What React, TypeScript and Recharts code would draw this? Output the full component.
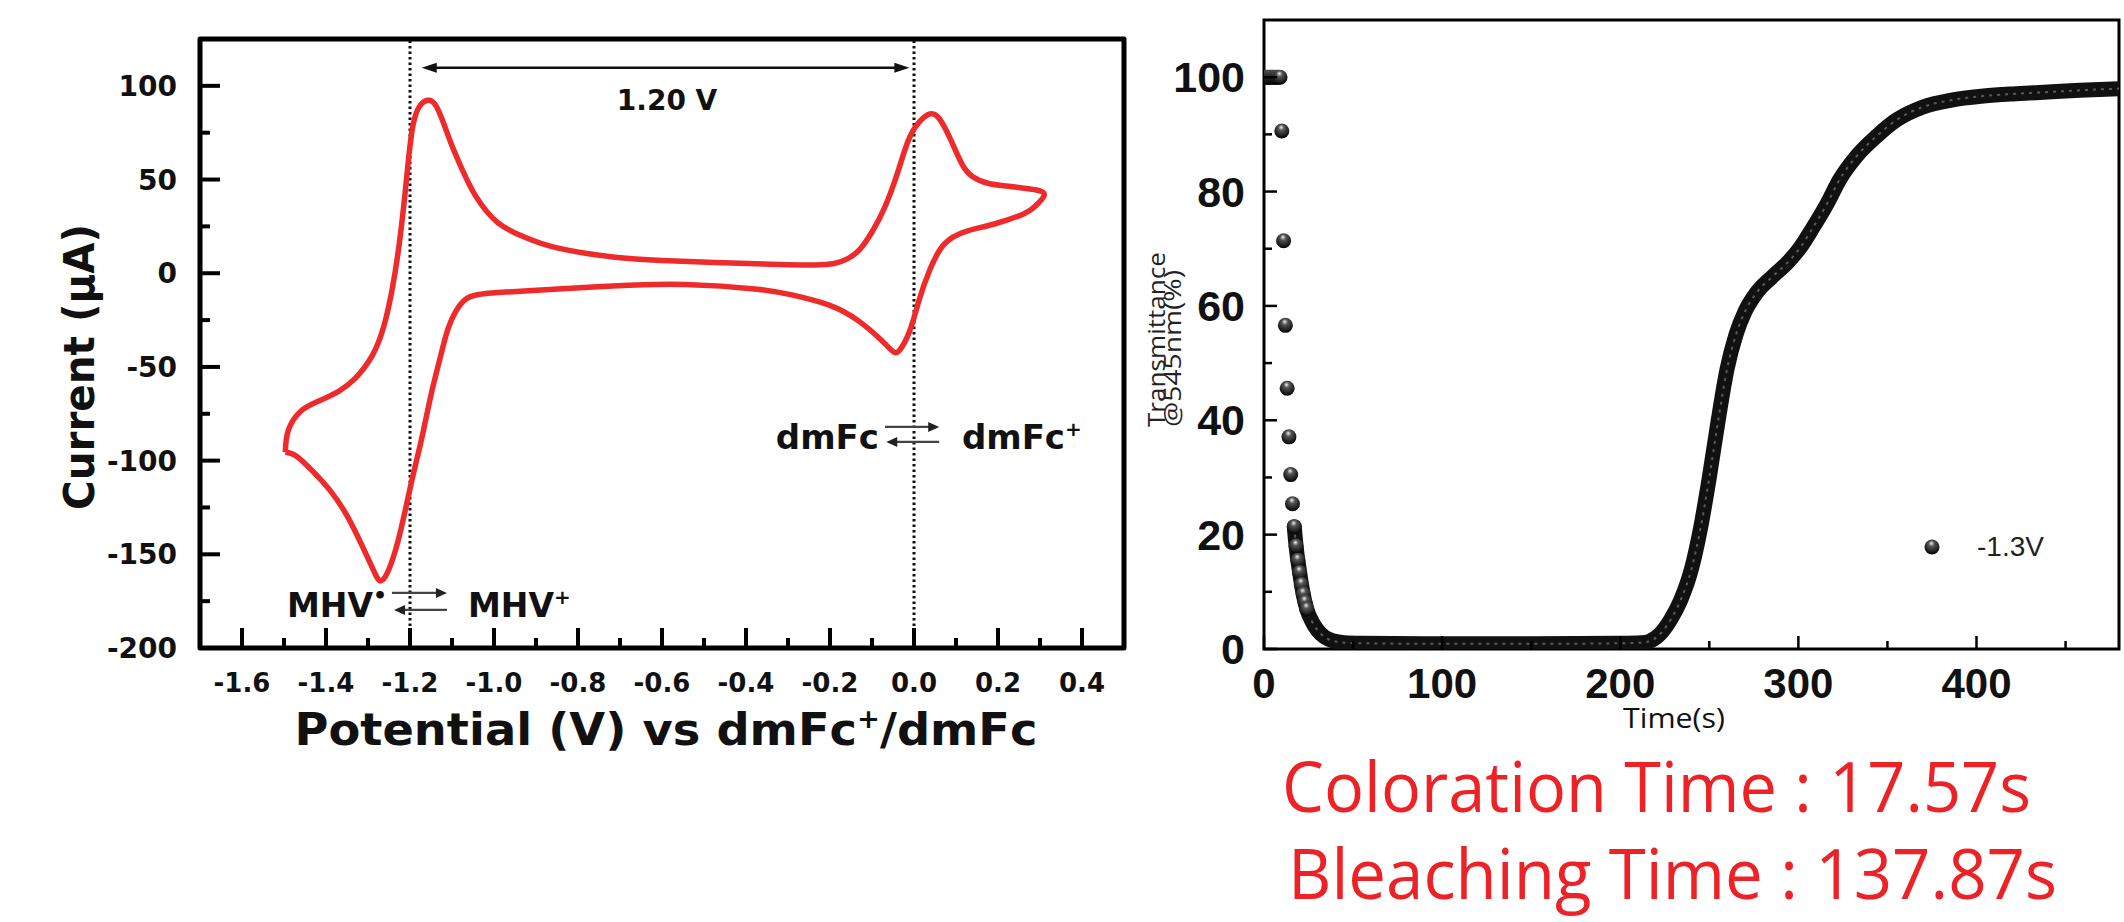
import React from 'react';
import {
  LineChart, ComposedChart, Line, XAxis, YAxis, ReferenceArea, ReferenceLine, ReferenceDot, Label, Legend,
} from 'recharts';

// cyclic voltammogram, scan order starting at the negative vertex
const cvPotential = [
  -1.497, -1.49, -1.462, -1.42, -1.37, -1.33, -1.29, -1.262, -1.242, -1.226, -1.213, -1.203, -1.192, -1.176,
  -1.158, -1.14, -1.12, -1.1, -1.077, -1.043, -0.991, -0.93, -0.85, -0.717, -0.6, -0.459, -0.32, -0.236,
  -0.19, -0.16, -0.13, -0.1, -0.07, -0.04, -0.015, 0.01, 0.038, 0.062, 0.09, 0.115, 0.14, 0.176, 0.22, 0.262,
  0.3, 0.309, 0.29, 0.262, 0.193, 0.124, 0.072, 0.038, 0.012, -0.01, -0.034, -0.048, -0.063, -0.082, -0.133,
  -0.202, -0.288, -0.373, -0.545, -0.717, -0.888, -0.991, -1.04, -1.068, -1.09, -1.11, -1.128, -1.15, -1.172,
  -1.197, -1.223, -1.245, -1.262, -1.275, -1.29, -1.315, -1.351, -1.39, -1.43, -1.471, -1.497,
];
const cvCurrent = [
  -95.5, -84, -74, -68.5, -63, -56, -44, -28, -8, 15, 40, 62, 80, 89.5,
  92.3, 90, 80, 68, 56, 41, 27, 19.5, 13.5, 8.7, 6.8, 5.6, 4.6, 4.4,
  5.2, 7.5, 12.5, 22, 35, 53, 70, 80, 85, 82, 70, 58, 51.5, 48, 46.5, 45.4,
  44, 41, 36, 31.8, 26.4, 22.3, 15.5, 2, -14.4, -30.7, -41, -42, -39, -34.8, -25.3,
  -17, -11.7, -8.5, -6, -6.8, -9, -10.3, -11.5, -14, -20, -30, -45, -65, -88,
  -112, -138, -155, -163, -163.5, -157, -145, -129, -116, -106, -97.5, -95.5,
];
const cvXTicks = [-1.6, -1.5, -1.4, -1.3, -1.2, -1.1, -1.0, -0.9, -0.8, -0.7, -0.6, -0.5, -0.4, -0.3, -0.2, -0.1, 0, 0.1, 0.2, 0.3, 0.4];
const cvYTicks = [-200, -175, -150, -125, -100, -75, -50, -25, 0, 25, 50, 75, 100];

// transmittance @545nm under -1.3V
const dropTime = [1, 2, 3, 4, 5, 6, 7, 8, 9, 10, 11, 12, 13, 14, 15, 16, 17, 18, 19, 20, 21, 22, 23, 24];
const dropTrans = [100, 100, 100, 100, 100, 100, 100, 100, 100, 90.6, 71.4, 56.6, 45.6, 37.1, 30.5, 25.4, 21.4, 18, 15.5, 13.4, 11.3, 9.6, 8.2, 7];
const bandTime = [
  17, 18, 20, 22, 24, 27, 30, 34, 39, 45, 55, 100, 150, 200, 212, 216, 222, 228, 234, 240, 245, 250, 255,
  260, 265, 270, 277, 285, 294, 301, 308, 316, 323, 333, 344, 355, 370, 386, 404, 422, 440, 458, 480,
];
const bandTrans = [
  21.4, 18, 13.4, 9.6, 7, 4.8, 3.3, 2.1, 1.4, 1.1, 1, 0.9, 0.9, 1, 1.1, 1.3, 2.5, 5, 8.6, 14, 21, 30, 40,
  49, 55, 59, 62.5, 65, 67.6, 70.2, 73.6, 77.8, 82, 86.3, 89.7, 92.5, 94.8, 96, 96.7, 97.1, 97.4, 97.7, 98,
];
const trXTicks = [0, 50, 100, 150, 200, 250, 300, 350, 400, 450];
const trYTicks = [0, 10, 20, 30, 40, 50, 60, 70, 80, 90, 100];

const cvData = cvPotential.map((v, k) => ({ v, i: cvCurrent[k] }));
const dropData = dropTime.map((t, k) => ({ t, T: dropTrans[k] }));
const bandData = bandTime.map((t, k) => ({ t, T: bandTrans[k] }));

const WIDE = 'DejaVu Sans';
const ARIAL = 'Liberation Sans, Arial';
const OPEN = 'Open Sans';
const RED = '#ee2a2a';

// ---- left chart ticks / titles ----
const CvXTick = (p: any) => {
  const v = p.payload.value;
  const major = Math.round(v * 10) % 2 === 0;
  return (
    <g>
      <line x1={p.x} y1={p.y} x2={p.x} y2={p.y - (major ? 20 : 10)} stroke="#000" strokeWidth={4} />
      {major && (
        <text x={p.x} y={p.y + 44} textAnchor="middle" fontFamily={WIDE} fontWeight="bold" fontSize={26} fill="#111">
          {Number(v).toFixed(1)}
        </text>
      )}
    </g>
  );
};

const CvYTick = (p: any) => {
  const v = p.payload.value;
  const major = Math.round(v) % 50 === 0;
  return (
    <g>
      <line x1={p.x} y1={p.y} x2={p.x + (major ? 20 : 10)} y2={p.y} stroke="#000" strokeWidth={4} />
      {major && (
        <text x={p.x - 23} y={p.y + 10} textAnchor="end" fontFamily={WIDE} fontWeight="bold" fontSize={28} fill="#111">
          {v}
        </text>
      )}
    </g>
  );
};

const CvXTitle = (p: any) => {
  const vb = p.viewBox;
  return (
    <text x={vb.x + vb.width / 2 + 4} y={vb.y + 97} textAnchor="middle" fontFamily={WIDE} fontWeight="bold"
      fontSize={44} fill="#111" textLength={743} lengthAdjust="spacingAndGlyphs">
      Potential (V) vs dmFc<tspan dy={-17} fontSize={26}>+</tspan><tspan dy={17}>/dmFc</tspan>
    </text>
  );
};

const CvYTitle = (p: any) => {
  const vb = p.viewBox;
  const cx = vb.x - 46;
  const cy = vb.y + 328;
  return (
    <text x={cx} y={cy} transform={`rotate(-90 ${cx} ${cy})`} textAnchor="middle" fontFamily={WIDE}
      fontWeight="bold" fontSize={42} fill="#111" textLength={286} lengthAdjust="spacingAndGlyphs">
      Current (μA)
    </text>
  );
};

const DoubleArrow = (p: any) => {
  const { x1, y1, x2, y2 } = p;
  const h = 15;
  const w = 5;
  return (
    <g>
      <line x1={x1 + 6} y1={y1} x2={x2 - 6} y2={y2} stroke="#111" strokeWidth={2.5} />
      <polygon points={`${x1},${y1} ${x1 + h},${y1 - w} ${x1 + h},${y1 + w}`} fill="#111" />
      <polygon points={`${x2},${y2} ${x2 - h},${y2 - w} ${x2 - h},${y2 + w}`} fill="#111" />
    </g>
  );
};

const HalfArrow = (p: any) => {
  const { x1, y1, x2, y2 } = p;
  const dir = x2 > x1 ? 1 : -1;
  const h = 11;
  return (
    <g>
      <line x1={x1} y1={y1} x2={x2 - dir * 4} y2={y2} stroke="#444" strokeWidth={2.2} />
      <polygon points={`${x2},${y2} ${x2 - dir * h},${y2 - 5} ${x2 - dir * h},${y2 + 5}`} fill="#222" />
    </g>
  );
};

const annoText = (label: React.ReactNode, anchor: string, size: number) => (p: any) => (
  <text x={p.cx} y={p.cy} textAnchor={anchor} fontFamily={WIDE} fontWeight="bold" fontSize={size} fill="#111">
    {label}
  </text>
);

// ---- right chart ticks / titles ----
const TrXTick = (p: any) => {
  const v = p.payload.value;
  const major = v % 100 === 0;
  return (
    <g>
      <line x1={p.x} y1={p.y} x2={p.x} y2={p.y - (major ? 13 : 8)} stroke="#000" strokeWidth={2.5} />
      {major && (
        <text x={p.x} y={p.y + 49} textAnchor="middle" fontFamily={ARIAL} fontWeight="bold" fontSize={42} fill="#111">
          {v}
        </text>
      )}
    </g>
  );
};

const TrTopTick = (p: any) => {
  const major = p.payload.value % 100 === 0;
  return <line x1={p.x} y1={p.y} x2={p.x} y2={p.y + (major ? 13 : 8)} stroke="#000" strokeWidth={2.5} />;
};

const TrYTick = (p: any) => {
  const v = p.payload.value;
  const major = v % 20 === 0;
  return (
    <g>
      <line x1={p.x} y1={p.y} x2={p.x + (major ? 13 : 8)} y2={p.y} stroke="#000" strokeWidth={2.5} />
      {major && (
        <text x={p.x - 19} y={p.y + 15} textAnchor="end" fontFamily={ARIAL} fontWeight="bold" fontSize={43} fill="#111">
          {v}
        </text>
      )}
    </g>
  );
};

const TrXTitle = (p: any) => {
  const vb = p.viewBox;
  return (
    <text x={vb.x + 410} y={vb.y + 79} textAnchor="middle" fontFamily={OPEN} fontSize={28} fill="#111"
      textLength={102} lengthAdjust="spacingAndGlyphs">
      Time(s)
    </text>
  );
};

// two stacked lines in one rotated text element
const TrYTitle = (p: any) => {
  const vb = p.viewBox;
  const y0 = vb.y + 407;
  const a = vb.x - 39;
  return (
    <text x={a} y={y0} transform={`rotate(-90 ${a} ${y0})`} fontFamily={OPEN} fontSize={24} fill="#222">
      <tspan x={a} y={y0} textLength={175} lengthAdjust="spacingAndGlyphs">Transmittance</tspan>
      <tspan x={a} y={y0 + 16} textLength={157} lengthAdjust="spacingAndGlyphs">@545nm(%)</tspan>
    </text>
  );
};

const SphereDot = (p: any) => {
  if (p.cx == null || p.cy == null) return <g key={p.key} />;
  return <circle key={p.key} cx={p.cx} cy={p.cy} r={7.5} fill="url(#sphereGrad)" />;
};

const TrLegend = () => (
  <div style={{ display: 'flex', alignItems: 'center', height: 34 }}>
    <svg width={16} height={16}>
      <defs>
        <radialGradient id="sphereGradLeg" cx="0.5" cy="0.35" r="0.65" fx="0.45" fy="0.25">
          <stop offset="0" stopColor="#eeeeee" />
          <stop offset="0.3" stopColor="#555555" />
          <stop offset="1" stopColor="#000000" />
        </radialGradient>
      </defs>
      <circle cx={8} cy={8} r={7.5} fill="url(#sphereGradLeg)" />
    </svg>
    <span style={{ marginLeft: 37, fontFamily: ARIAL, fontSize: 28, color: '#222' }}>-1.3V</span>
  </div>
);

export default function App() {
  return (
    <div style={{ position: 'absolute', left: 0, top: 0, width: 2124, height: 922, background: '#fff', overflow: 'hidden' }}>
      <div style={{ position: 'absolute', left: 0, top: 0 }}>
        <LineChart width={1130} height={800} data={cvData} margin={{ top: 39, right: 6, bottom: 92, left: 140 }}>
          <XAxis type="number" dataKey="v" domain={[-1.7, 0.5]} ticks={cvXTicks} interval={0} allowDataOverflow
            axisLine={false} tickLine={false} tickSize={0} tickMargin={0} tick={CvXTick} height={60}>
            <Label content={CvXTitle} />
          </XAxis>
          <YAxis type="number" domain={[-200, 125]} ticks={cvYTicks} interval={0} allowDataOverflow
            axisLine={false} tickLine={false} tickSize={0} tickMargin={0} tick={CvYTick} width={60}>
            <Label content={CvYTitle} />
          </YAxis>
          <ReferenceArea x1={-1.7} x2={0.5} y1={-200} y2={125} fill="none" stroke="#000" strokeWidth={5} strokeLinejoin="round" />
          <ReferenceLine x={-1.2} stroke="#111" strokeWidth={3} strokeDasharray="2.5 3" />
          <ReferenceLine x={0} stroke="#111" strokeWidth={3} strokeDasharray="2.5 3" />
          <ReferenceLine segment={[{ x: -1.172, y: 109.7 }, { x: -0.011, y: 109.7 }]} shape={DoubleArrow} />
          <ReferenceLine segment={[{ x: -1.243, y: -170.6 }, { x: -1.112, y: -170.6 }]} shape={HalfArrow} />
          <ReferenceLine segment={[{ x: -1.112, y: -179.7 }, { x: -1.238, y: -179.7 }]} shape={HalfArrow} />
          <ReferenceLine segment={[{ x: -0.069, y: -82 }, { x: 0.06, y: -82 }]} shape={HalfArrow} />
          <ReferenceLine segment={[{ x: 0.06, y: -90 }, { x: -0.066, y: -90 }]} shape={HalfArrow} />
          <ReferenceDot x={-0.588} y={87.2} r={0} shape={annoText('1.20 V', 'middle', 28)} />
          <ReferenceDot x={-1.493} y={-183.4} r={0}
            shape={annoText(<>MHV<tspan dy={-14} fontSize={22}>•</tspan></>, 'start', 33)} />
          <ReferenceDot x={-1.062} y={-183.4} r={0}
            shape={annoText(<>MHV<tspan dy={-13} fontSize={20}>+</tspan></>, 'start', 33)} />
          <ReferenceDot x={-0.329} y={-93.8} r={0} shape={annoText('dmFc', 'start', 34)} />
          <ReferenceDot x={0.114} y={-93.8} r={0}
            shape={annoText(<>dmFc<tspan dy={-13} fontSize={20}>+</tspan></>, 'start', 34)} />
          <Line dataKey="i" type="natural" stroke={RED} strokeWidth={5.5} dot={false} isAnimationActive={false} />
        </LineChart>
      </div>

      <div style={{ position: 'absolute', left: 1130, top: 0 }}>
        <ComposedChart width={994} height={760} margin={{ top: 20, right: 5, bottom: 61, left: 74 }}>
          <defs>
            <radialGradient id="sphereGrad" cx="0.5" cy="0.35" r="0.65" fx="0.45" fy="0.25">
              <stop offset="0" stopColor="#eeeeee" />
              <stop offset="0.3" stopColor="#555555" />
              <stop offset="1" stopColor="#000000" />
            </radialGradient>
          </defs>
          <XAxis type="number" dataKey="t" domain={[0, 480]} ticks={trXTicks} interval={0} allowDataOverflow
            axisLine={false} tickLine={false} tickSize={0} tickMargin={0} tick={TrXTick} height={50}>
            <Label content={TrXTitle} />
          </XAxis>
          <XAxis xAxisId="top" orientation="top" type="number" dataKey="t" domain={[0, 480]} ticks={trXTicks}
            interval={0} allowDataOverflow axisLine={false} tickLine={false} tickSize={0} tickMargin={0}
            tick={TrTopTick} height={0} />
          <YAxis type="number" dataKey="T" domain={[0, 110]} ticks={trYTicks} interval={0} allowDataOverflow
            axisLine={false} tickLine={false} tickSize={0} tickMargin={0} tick={TrYTick} width={60}>
            <Label content={TrYTitle} />
          </YAxis>
          <ReferenceArea x1={0} x2={480} y1={0} y2={110} fill="none" stroke="#000" strokeWidth={3} />
          <Legend layout="vertical" align="center" verticalAlign="middle" content={TrLegend}
            wrapperStyle={{ left: 794, top: 530, width: 'auto' }} />
          <Line data={bandData} dataKey="T" name="-1.3V" type="monotone" stroke="#111" strokeWidth={15}
            strokeLinecap="round" dot={false} isAnimationActive={false} legendType="circle" />
          <Line data={bandData} dataKey="T" type="monotone" stroke="#8a8a8a" strokeWidth={2} strokeOpacity={0.6}
            strokeDasharray="3 5" dot={false} isAnimationActive={false} legendType="none" />
          <Line data={dropData} dataKey="T" stroke="none" dot={SphereDot} isAnimationActive={false} legendType="none" />
        </ComposedChart>
      </div>

      <svg style={{ position: 'absolute', left: 0, top: 0 }} width={2124} height={922}>
        <text x={1282} y={812} fontFamily={OPEN} fontSize={70} fill="#ec2227" textLength={749} lengthAdjust="spacingAndGlyphs">
          Coloration Time : 17.57s
        </text>
        <text x={1288} y={899} fontFamily={OPEN} fontSize={70} fill="#ec2227" textLength={769} lengthAdjust="spacingAndGlyphs">
          Bleaching Time : 137.87s
        </text>
      </svg>
    </div>
  );
}
